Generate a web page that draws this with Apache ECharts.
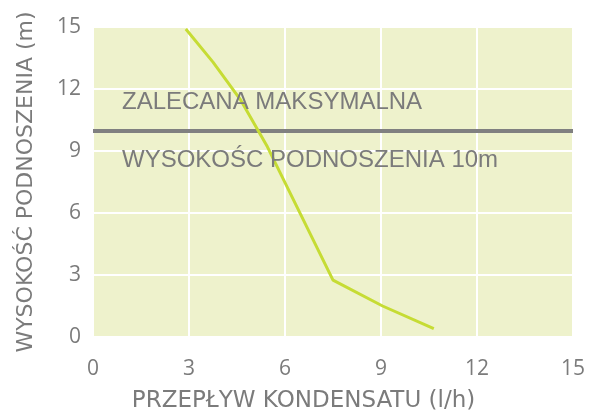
<!DOCTYPE html>
<html>
<head>
<meta charset="utf-8">
<script src="https://cdn.jsdelivr.net/npm/echarts@6/dist/echarts.min.js"></script>
<style>
html,body{margin:0;padding:0;background:#fff;}
#c{width:589px;height:410px;}
</style>
</head>
<body>
<div id="c"></div>
<script>
var flowValues = [2.9, 3.75, 4.6, 5.45, 7.5, 9.05, 10.65];
var headValues = [14.9, 13.3, 11.5, 9.2, 2.75, 1.5, 0.4];
var xTicks = [0, 3, 6, 9, 12, 15];
var yTicks = [0, 3, 6, 9, 12, 15];
var limitValue = 10;
var xName = 'PRZEPŁYW KONDENSATU (l/h)';
var yName = 'WYSOKOŚĆ PODNOSZENIA (m)';
var noteTop = 'ZALECANA MAKSYMALNA';
var noteBottom = 'WYSOKOŚC PODNOSZENIA 10m';

var points = flowValues.map(function (x, i) { return [x, headValues[i]]; });
var textColor = '#7b7b7b';
var chart = echarts.init(document.getElementById('c'), null, {renderer: 'canvas'});
chart.setOption({
  animation: false,
  backgroundColor: '#ffffff',
  grid: {
    left: 93, top: 27, right: 16, bottom: 73,
    containLabel: false, outerBoundsMode: 'none',
    show: true, backgroundColor: '#eef2cc', borderWidth: 0
  },
  xAxis: {
    type: 'value', min: xTicks[0], max: xTicks[xTicks.length - 1], interval: 3,
    name: xName, nameLocation: 'middle', nameGap: 53,
    nameTextStyle: {color: textColor, fontSize: 23, fontFamily: 'DejaVu Sans', padding: [0, 59, 0, 0]},
    axisLine: {show: false}, axisTick: {show: false},
    axisLabel: {color: textColor, fontSize: 21, fontFamily: 'Open Sans', margin: 22},
    splitLine: {show: true, lineStyle: {color: '#ffffff', width: 2}}
  },
  yAxis: {
    type: 'value', min: yTicks[0], max: yTicks[yTicks.length - 1], interval: 3,
    name: yName, nameLocation: 'middle', nameGap: 56,
    nameTextStyle: {color: textColor, fontSize: 22, fontFamily: 'DejaVu Sans'},
    axisLine: {show: false}, axisTick: {show: false},
    axisLabel: {color: textColor, fontSize: 21, fontFamily: 'Open Sans', margin: 12},
    splitLine: {show: true, lineStyle: {color: '#ffffff', width: 2}}
  },
  series: [{
    type: 'line',
    data: points,
    symbol: 'none',
    lineStyle: {color: '#c6dc34', width: 3},
    z: 3,
    markLine: {
      silent: true, symbol: 'none',
      lineStyle: {color: '#808080', width: 4, type: 'solid'},
      label: {show: false},
      data: [{yAxis: limitValue}],
      z: 2
    }
  }],
  graphic: [
    {type: 'text', left: 122, top: 90, z: 10,
      style: {text: noteTop, fill: textColor, font: '24px "Liberation Sans"'}},
    {type: 'text', left: 122, top: 148, z: 10,
      style: {text: noteBottom, fill: textColor, font: '24px "Liberation Sans"'}}
  ]
});
</script>
</body>
</html>
